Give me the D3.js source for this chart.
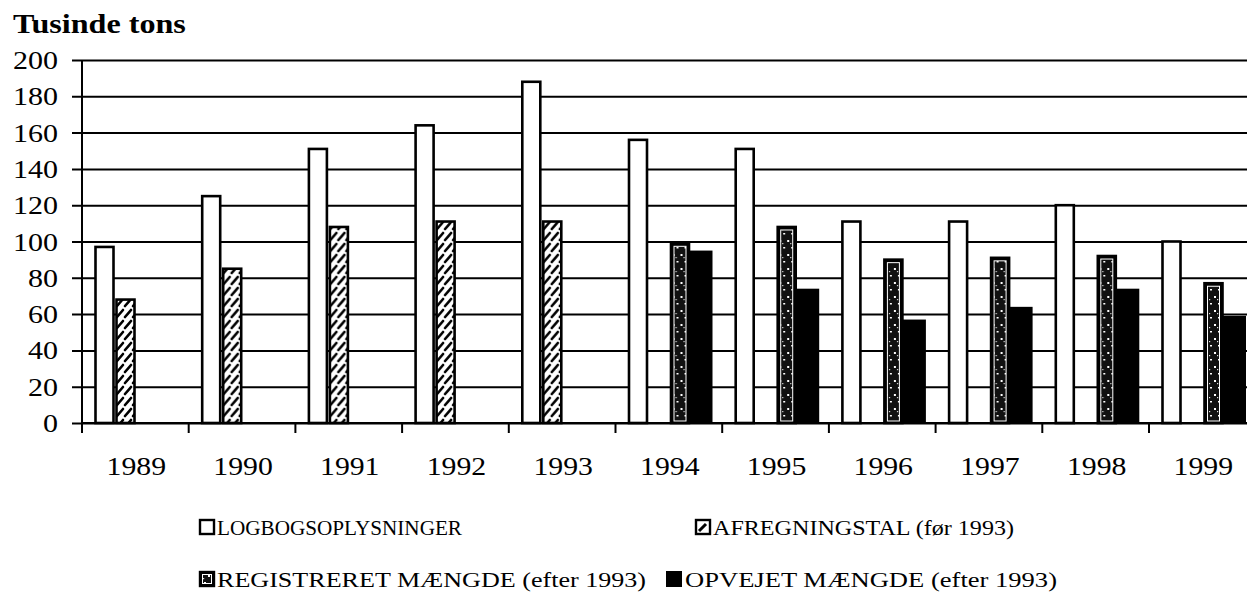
<!DOCTYPE html>
<html>
<head>
<meta charset="utf-8">
<script src="https://cdn.jsdelivr.net/npm/d3@7"></script>
<style>
  html, body { margin: 0; padding: 0; background: #fff; }
  svg { display: block; font-family: "Liberation Serif", "Times New Roman", serif; }
</style>
</head>
<body>
<svg id="chart" width="1247" height="611"></svg>
<script>
const years = ["1989","1990","1991","1992","1993","1994","1995","1996","1997","1998","1999"];
const seriesNames = ["LOGBOGSOPLYSNINGER", "AFREGNINGSTAL (før 1993)", "REGISTRERET MÆNGDE (efter 1993)", "OPVEJET MÆNGDE (efter 1993)"];
const logbog      = [97, 125, 151, 164, 188, 156, 151, 111, 111, 120, 100];
const afregning   = [68, 85, 108, 111, 111, null, null, null, null, null, null];
const registreret = [null, null, null, null, null, 99, 108, 90, 91, 92, 77];
const opvejet     = [null, null, null, null, null, 95, 74, 57, 64, 74, 59];
const yTicks = [0, 20, 40, 60, 80, 100, 120, 140, 160, 180, 200];
const yTitle = "Tusinde tons";

const seriesValues = [logbog, afregning, registreret, opvejet];
const FONT = "Liberation Serif, Times New Roman, serif";
const STRETCH = 1.19;

const svg = d3.select("#chart");
const defs = svg.append("defs");

// hatched pattern (short diagonal dashes)
const hatch = defs.append("pattern").attr("id", "hatch").attr("patternUnits", "userSpaceOnUse")
  .attr("width", 16).attr("height", 11);
hatch.append("rect").attr("width", 16).attr("height", 11).attr("fill", "#fff");
[[-5, 1], [3, 9], [11, 17]].forEach(([a, b]) => {
  hatch.append("path").attr("d", `M${a},9 L${b},2`).attr("stroke", "#000").attr("stroke-width", 2.6).attr("stroke-linecap", "round");
});

// registered pattern (black with white specks)
const dots = defs.append("pattern").attr("id", "dots").attr("patternUnits", "userSpaceOnUse")
  .attr("width", 8).attr("height", 14);
dots.append("rect").attr("width", 8).attr("height", 14).attr("fill", "#111");
dots.append("rect").attr("x", 1).attr("y", 2).attr("width", 2).attr("height", 2).attr("fill", "#fff");
dots.append("rect").attr("x", 5).attr("y", 9).attr("width", 2).attr("height", 1.5).attr("fill", "#fff");
dots.append("rect").attr("x", 4).attr("y", 5).attr("width", 1.2).attr("height", 1.2).attr("fill", "#ddd");

const plotLeft = 82, plotTop = 60, plotBottom = 423;
const bandW = 106.7;

const y = d3.scaleLinear().domain([0, 200]).range([plotBottom, plotTop]);
const x0 = d3.scaleBand().domain(years).range([plotLeft, plotLeft + bandW * years.length]).padding(0);
const x1 = d3.scaleBand().domain(d3.range(4)).range([12, 96]).padding(0);

// title
svg.append("text").attr("transform", `translate(13,33) scale(${STRETCH},1)`)
  .attr("font-size", 27).attr("font-weight", "bold").attr("font-family", FONT)
  .attr("fill", "#000").text(yTitle);

// gridlines and y ticks
const yAxis = d3.axisLeft(y).tickValues(yTicks).tickSize(-(1247 - plotLeft + 10)).tickPadding(12).tickSizeOuter(0);
const gy = svg.append("g").attr("transform", `translate(${plotLeft - 10},0)`).call(yAxis);
gy.select(".domain").remove();
gy.selectAll(".tick line").attr("stroke", "#000").attr("stroke-width", 2);
gy.selectAll(".tick text").attr("font-size", 25).attr("fill", "#000")
  .attr("font-family", FONT).attr("x", -14 / 1.2).attr("dy", "0.34em")
  .attr("transform", "scale(1.2,1)");

// bars
const groups = svg.append("g").selectAll("g").data(years).join("g")
  .attr("transform", d => `translate(${x0(d)},0)`);

groups.each(function(yr, i) {
  const g = d3.select(this);
  seriesValues.forEach((vals, s) => {
    const v = vals[i];
    if (v == null) return;
    const bx = x1(s) + 1.5;
    const bw = x1.bandwidth() - 3;
    if (s === 0) {
      g.append("rect").attr("x", bx).attr("y", y(v)).attr("width", bw).attr("height", y(0) - y(v))
        .attr("fill", "#fff").attr("stroke", "#000").attr("stroke-width", 2.6);
    } else if (s === 1) {
      g.append("rect").attr("x", bx).attr("y", y(v)).attr("width", bw).attr("height", y(0) - y(v))
        .attr("fill", "url(#hatch)").attr("stroke", "#000").attr("stroke-width", 2.6);
    } else if (s === 2) {
      g.append("rect").attr("x", bx).attr("y", y(v)).attr("width", bw).attr("height", y(0) - y(v))
        .attr("fill", "#000").attr("stroke", "#000").attr("stroke-width", 2.6);
      g.append("rect").attr("x", bx + 3).attr("y", y(v) + 3).attr("width", bw - 6).attr("height", y(0) - y(v) - 5)
        .attr("fill", "url(#dots)").attr("stroke", "#fff").attr("stroke-width", 1);
    } else {
      g.append("rect").attr("x", x1(s) - 1).attr("y", y(v)).attr("width", x1.bandwidth() + 2).attr("height", y(0) - y(v))
        .attr("fill", "#000");
    }
  });
});

// axes lines
svg.append("line").attr("x1", plotLeft).attr("x2", plotLeft).attr("y1", plotTop).attr("y2", plotBottom + 10)
  .attr("stroke", "#000").attr("stroke-width", 2);
svg.append("line").attr("x1", plotLeft).attr("x2", 1247).attr("y1", plotBottom).attr("y2", plotBottom)
  .attr("stroke", "#000").attr("stroke-width", 2);

// x ticks at band boundaries
svg.append("g").selectAll("line").data(years.slice(1)).join("line")
  .attr("x1", d => x0(d)).attr("x2", d => x0(d)).attr("y1", plotBottom).attr("y2", plotBottom + 10)
  .attr("stroke", "#000").attr("stroke-width", 2);

// x labels
svg.append("g").selectAll("text").data(years).join("text")
  .attr("transform", d => `translate(${x0(d) + bandW / 2 + 1},475) scale(${STRETCH},1)`)
  .attr("text-anchor", "middle").attr("font-family", FONT)
  .attr("font-size", 25).attr("fill", "#000").text(d => d);

// legend
const legendPos = [
  { x: 199, y: 535 }, { x: 695, y: 535 },
  { x: 199, y: 587 }, { x: 666, y: 587 }
];
const legendTextWidth = [245, 301, 429, 372];
seriesNames.forEach((name, s) => {
  const p = legendPos[s];
  const g = svg.append("g").attr("transform", `translate(${p.x},${p.y})`);
  const sz = 14;
  if (s === 0) {
    g.append("rect").attr("x", 1).attr("y", -15).attr("width", sz).attr("height", sz)
      .attr("fill", "#fff").attr("stroke", "#000").attr("stroke-width", 2.4);
  } else if (s === 1) {
    g.append("rect").attr("x", 1).attr("y", -15).attr("width", sz).attr("height", sz)
      .attr("fill", "#fff").attr("stroke", "#000").attr("stroke-width", 2.4);
    g.append("path").attr("d", "M4,-4 L11,-11").attr("stroke", "#000").attr("stroke-width", 3);
  } else if (s === 2) {
    g.append("rect").attr("x", 1).attr("y", -15).attr("width", sz).attr("height", sz)
      .attr("fill", "#000").attr("stroke", "#000").attr("stroke-width", 2.4);
    g.append("rect").attr("x", 3.5).attr("y", -12.5).attr("width", sz - 5).attr("height", sz - 5)
      .attr("fill", "url(#dots)").attr("stroke", "#fff").attr("stroke-width", 1);
  } else {
    g.append("rect").attr("x", 0).attr("y", -16).attr("width", sz + 2).attr("height", sz + 2)
      .attr("fill", "#000");
  }
  g.append("text").attr("x", s === 3 ? 19 : 18).attr("y", 0).attr("font-size", 22).attr("font-family", FONT)
    .attr("fill", "#000").attr("textLength", legendTextWidth[s]).attr("lengthAdjust", "spacingAndGlyphs")
    .text(name);
});
</script>
</body>
</html>
